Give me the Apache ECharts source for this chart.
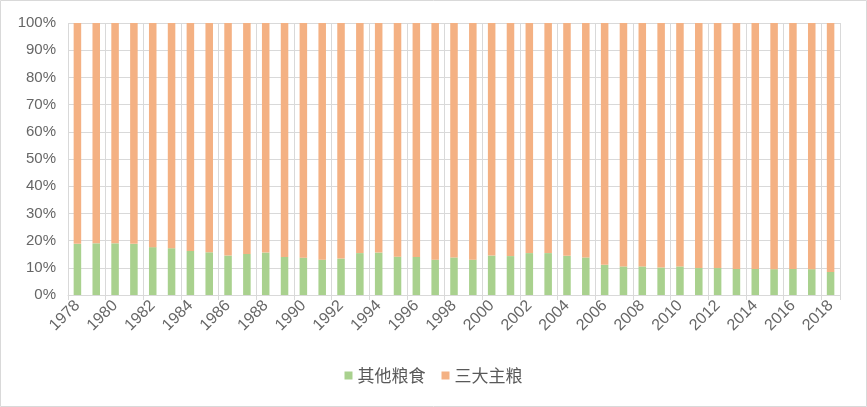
<!DOCTYPE html>
<html><head><meta charset="utf-8">
<script src="https://cdn.jsdelivr.net/npm/echarts@6/dist/echarts.min.js"></script>
<style>html,body{margin:0;padding:0;background:#fff}#c{width:867px;height:407px}</style>
</head><body><div id="c"></div>
<script>
const years = ['1978','1979','1980','1981','1982','1983','1984','1985','1986','1987','1988','1989','1990','1991','1992','1993','1994','1995','1996','1997','1998','1999','2000','2001','2002','2003','2004','2005','2006','2007','2008','2009','2010','2011','2012','2013','2014','2015','2016','2017','2018'];
const otherGrain = [18.8,19.0,19.0,18.8,17.6,17.2,16.2,15.7,14.5,15.1,15.6,14.0,13.7,13.0,13.4,15.4,15.6,14.1,14.0,13.0,13.8,13.0,14.5,14.3,15.4,15.4,14.4,13.8,11.1,10.5,10.5,10.1,10.5,9.9,9.9,9.6,9.6,9.5,9.6,9.5,8.5];
const mainGrain = [81.2,81.0,81.0,81.2,82.4,82.8,83.8,84.3,85.5,84.9,84.4,86.0,86.3,87.0,86.6,84.6,84.4,85.9,86.0,87.0,86.2,87.0,85.5,85.7,84.6,84.6,85.6,86.2,88.9,89.5,89.5,89.9,89.5,90.1,90.1,90.4,90.4,90.5,90.4,90.5,91.5];
const seriesNames = ['其他粮食','三大主粮'];
const colors = ['#A9D18E','#F4B183'];
const font = '"Liberation Sans", "Noto Sans CJK SC", sans-serif';
const chart = echarts.init(document.getElementById('c'), null, {renderer:'canvas'});
chart.setOption({
  animation:false,
  textStyle:{fontFamily:font},
  graphic:[{type:'rect',shape:{x:0.5,y:0.5,width:866,height:406},style:{fill:'none',stroke:'#D9D9D9',lineWidth:1},silent:true}],
  grid:{left:68,right:27,top:23,bottom:112},
  legend:{bottom:18,left:'center',itemWidth:8,itemHeight:8,itemGap:16,icon:'rect',
    textStyle:{color:'#595959',fontSize:17,fontFamily:'"Noto Sans CJK SC", sans-serif'},data:seriesNames},
  xAxis:{type:'category',data:years,
    axisLine:{lineStyle:{color:'#D9D9D9'}},
    axisTick:{show:true,alignWithLabel:false,lineStyle:{color:'#D9D9D9'},length:5},
    splitLine:{show:true,lineStyle:{color:'#D9D9D9'}},
    axisLabel:{interval:1,rotate:45,color:'#666666',fontSize:16,margin:8}},
  yAxis:{type:'value',min:0,max:100,interval:10,
    axisLine:{show:false},axisTick:{show:false},
    splitLine:{lineStyle:{color:'#D9D9D9'}},
    axisLabel:{formatter:'{value}%',color:'#666666',fontSize:15,margin:12}},
  series:[
    {name:seriesNames[0],type:'bar',stack:'a',data:otherGrain,barWidth:'40%',itemStyle:{color:colors[0]}},
    {name:seriesNames[1],type:'bar',stack:'a',data:mainGrain,barWidth:'40%',itemStyle:{color:colors[1]}}
  ]
});
</script></body></html>
